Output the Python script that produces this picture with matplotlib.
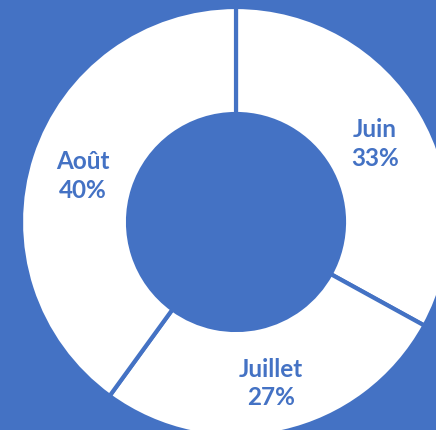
import numpy as np
import matplotlib
matplotlib.use("Agg")
import matplotlib.pyplot as plt

months = ["Juin", "Juillet", "Août"]
shares = [33, 27, 40]

BLUE = "#4472C4"

fig = plt.figure(figsize=(4.36, 4.31), dpi=100, facecolor=BLUE)
ax = fig.add_axes([0, 0, 1, 1])
ax.set_facecolor(BLUE)

R = 215
W = 107
wedges, _ = ax.pie(shares, radius=R, startangle=90, counterclock=False,
                   colors=["white"] * len(shares),
                   wedgeprops=dict(width=W, edgecolor=BLUE, linewidth=3))
ax.set_aspect("auto")
ax.set_xlim(-236, 200)
ax.set_ylim(-208, 223)
ax.axis("off")

rmid = R - W / 2
for w, name, v in zip(wedges, months, shares):
    ang = np.deg2rad((w.theta1 + w.theta2) / 2)
    x, y = rmid * np.cos(ang), rmid * np.sin(ang)
    ax.text(x, y - 3, f"{name}\n{v}%", ha="center", va="center", color=BLUE,
            fontsize=17.5, fontweight="bold", family=["Lato", "DejaVu Sans"],
            linespacing=1.3)

fig.savefig("out.png", dpi=100, facecolor=BLUE)
